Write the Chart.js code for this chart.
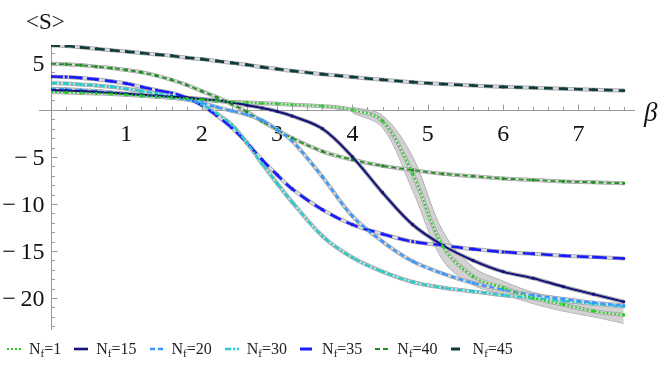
<!DOCTYPE html>
<html>
<head>
<meta charset="utf-8">
<script src="https://cdn.jsdelivr.net/npm/chart.js@4.4.0/dist/chart.umd.min.js"></script>
<style>
html, body { margin: 0; padding: 0; background: #fff; }
#wrap { position: relative; width: 664px; height: 366px; }
#legend { position: absolute; left: 7px; top: 338px; display: flex; align-items: center; height: 22px;
  font-family: "Liberation Serif", serif; font-size: 16px; color: #222; white-space: nowrap; }
.item { display: flex; align-items: center; margin-right: 13px; }
.item svg { margin-right: 8px; }
sub { font-size: 11px; vertical-align: -3px; line-height: 0; }
</style>
</head>
<body>
<div id="wrap">
  <canvas id="chart" width="664" height="366"></canvas>
  <div id="legend"></div>
</div>
<script>
// beta values of the measurements
const beta = [0, 0.2, 0.4, 0.6, 0.8, 1.0, 1.2, 1.4, 1.6, 1.8, 2.0, 2.2, 2.4, 2.6, 2.8, 3.0, 3.2,
              3.6, 4.0, 4.4, 4.8, 5.2, 5.6, 6.0, 6.4, 6.8, 7.2, 7.6];

// <S> for each N_f
const sNf1  = [1.9, 1.85, 1.8, 1.75, 1.7, 1.6, 1.5, 1.4, 1.3, 1.2, 1.1, 0.95, 0.85, 0.8, 0.7, 0.65, 0.55,
               0.4, 0.0, -1.2, -6.8, -14.5, -17.7, -18.9, -20.0, -20.7, -21.4, -21.8];
const sNf15 = [2.1, 2.05, 2.0, 1.9, 1.8, 1.7, 1.6, 1.5, 1.4, 1.3, 1.15, 1.0, 0.8, 0.5, 0.2, -0.15, -0.65,
               -2.0, -5.0, -8.8, -12.2, -14.4, -16.0, -17.2, -17.9, -18.8, -19.6, -20.4];
const sNf20 = [2.25, 2.2, 2.1, 2.0, 1.85, 1.7, 1.55, 1.45, 1.3, 1.1, 0.75, 0.3, -0.1, -0.5, -1.1, -2.1, -3.3,
               -7.1, -11.3, -14.0, -16.1, -17.4, -18.4, -19.1, -19.7, -20.1, -20.5, -20.8];
const sNf30 = [2.85, 2.8, 2.7, 2.6, 2.45, 2.25, 2.0, 1.75, 1.5, 1.2, 0.6, -0.4, -1.6, -3.5, -5.7, -7.8, -9.8,
               -13.4, -15.7, -17.2, -18.3, -18.9, -19.3, -19.7, -20.0, -20.3, -20.6, -20.9];
const sNf35 = [3.55, 3.5, 3.4, 3.25, 3.05, 2.8, 2.45, 2.1, 1.8, 1.3, 0.5, -0.6, -1.9, -3.5, -5.3, -6.9, -8.4,
               -10.6, -12.2, -13.2, -14.0, -14.4, -14.8, -15.1, -15.3, -15.5, -15.65, -15.8];
const sNf40 = [4.9, 4.85, 4.75, 4.6, 4.45, 4.25, 4.0, 3.65, 3.2, 2.65, 2.0, 1.35, 0.6, -0.2, -1.2, -2.1, -3.0,
               -4.4, -5.3, -5.95, -6.4, -6.8, -7.05, -7.3, -7.45, -7.6, -7.7, -7.8];
const sNf45 = [6.85, 6.8, 6.65, 6.5, 6.35, 6.2, 6.05, 5.9, 5.75, 5.55, 5.4, 5.2, 5.0, 4.8, 4.55, 4.35, 4.15,
               3.8, 3.5, 3.2, 2.95, 2.75, 2.6, 2.45, 2.35, 2.25, 2.15, 2.05];

// confidence band of the N_f=1 fit
const bandBeta = [4.0, 4.4, 4.8, 5.2, 5.6, 6.0, 6.4, 6.8, 7.2, 7.6];
const bandLo   = [-0.3, -1.9, -8.6, -16.0, -18.6, -19.6, -20.6, -21.4, -22.0, -22.7];
const bandHi   = [0.3, -0.6, -5.0, -12.9, -16.7, -18.2, -19.4, -20.0, -20.6, -20.9];

// error bar of the N_f=1 point at beta=0
const errBeta0 = [5.0, -3.0];

const nfLabels = ['1', '15', '20', '30', '35', '40', '45'];
const xTicks = [1, 2, 3, 4, 5, 6, 7];
const yTicks = [5, -5, -10, -15, -20];

const series = [sNf1, sNf15, sNf20, sNf30, sNf35, sNf40, sNf45];
const colors = ['#22cc22', '#14147a', '#3399ff', '#22cccc', '#1a1aff', '#1f8f1f', '#0e3c3c'];
const dashes = [[2, 2], [], [5, 3], [6, 2, 2, 2], [12, 6], [5, 3], [9, 6]];
const widths = [1.8, 2.2, 2.2, 2.2, 2.6, 1.8, 2.6];

function pts(xs, ys) { return xs.map((b, i) => ({ x: b, y: ys[i] })); }

const datasets = [];
series.forEach((s, i) => {
  datasets.push({
    label: 'N_f=' + nfLabels[i],
    data: pts(beta, s),
    borderColor: colors[i],
    backgroundColor: colors[i],
    borderWidth: widths[i],
    borderDash: dashes[i],
    pointStyle: 'rect',
    pointRadius: 2,
    pointBorderWidth: 0,
    order: 1
  });
});
// grey fit lines under each curve
series.forEach((s) => {
  datasets.push({ data: pts(beta, s), borderColor: '#dadada', borderWidth: 2.5, pointRadius: 0, order: 6 });
  datasets.push({ data: pts(beta, s), borderColor: '#a2a2a2', borderWidth: 4, pointRadius: 0, order: 7 });
});
datasets.push({ data: pts(bandBeta, bandHi), borderColor: '#b0b0b0', borderWidth: 1, pointRadius: 0,
  backgroundColor: 'rgba(195,195,195,0.75)', fill: '+1', order: 8 });
datasets.push({ data: pts(bandBeta, bandLo), borderColor: '#b0b0b0', borderWidth: 1, pointRadius: 0, order: 8 });
datasets.push({ data: errBeta0.map(v => ({ x: 0, y: v })), borderColor: colors[0], borderWidth: 1.5,
  borderDash: [2, 2], pointRadius: 0, order: 2 });

const serif = '"Liberation Serif", "Times New Roman", serif';

const mmaAxes = {
  id: 'mmaAxes',
  beforeDatasetsDraw(chart) {
    const { ctx, scales: { x, y } } = chart;
    const x0 = Math.round(x.getPixelForValue(0)) + 0.5;
    const y0 = Math.round(y.getPixelForValue(0)) + 0.5;
    ctx.save();
    ctx.strokeStyle = '#9a9a9a';
    ctx.lineWidth = 1;
    ctx.beginPath();
    ctx.moveTo(x.getPixelForValue(-0.16), y0); ctx.lineTo(x.right, y0);
    ctx.moveTo(x0, y.top); ctx.lineTo(x0, y.bottom);
    for (let k = 1; k <= 38; k++) {
      const px = Math.round(x.getPixelForValue(k * 0.2)) + 0.5;
      ctx.moveTo(px, y0); ctx.lineTo(px, y0 - (k % 5 === 0 ? 6 : 3.5));
    }
    for (let v = -23; v <= 6; v++) {
      if (v === 0) continue;
      const py = Math.round(y.getPixelForValue(v)) + 0.5;
      ctx.moveTo(x0, py); ctx.lineTo(x0 + (v % 5 === 0 ? 6 : 3.5), py);
    }
    ctx.stroke();

    ctx.fillStyle = '#111';
    ctx.font = '24px ' + serif;
    ctx.textAlign = 'center';
    ctx.textBaseline = 'alphabetic';
    xTicks.forEach(v => ctx.fillText(String(v), x.getPixelForValue(v), y0 + 30));
    ctx.textAlign = 'right';
    ctx.textBaseline = 'middle';
    yTicks.forEach(v => {
      const t = v < 0 ? '\u2212\u2009' + Math.abs(v) : String(v);
      ctx.fillText(t, x0 - 7, y.getPixelForValue(v) + 2);
    });
    ctx.textAlign = 'left';
    ctx.textBaseline = 'alphabetic';
    ctx.font = '23px ' + serif;
    ctx.fillText('<S>', 26, 29);
    ctx.font = 'italic 27px ' + serif;
    ctx.fillText('\u03b2', 644, y0 + 10);
    ctx.restore();
  }
};

new Chart(document.getElementById('chart'), {
  type: 'line',
  data: { datasets: datasets },
  options: {
    responsive: false,
    animation: false,
    layout: { padding: { left: 51, right: 29, top: 45, bottom: 36 } },
    elements: { line: { tension: 0.35, fill: false } },
    scales: {
      x: { type: 'linear', min: 0, max: 7.75, display: false },
      y: { type: 'linear', min: -23.4, max: 6.9, display: false }
    },
    plugins: { legend: { display: false }, tooltip: { enabled: false } }
  },
  plugins: [mmaAxes]
});

// legend with subscripts
const legend = document.getElementById('legend');
nfLabels.forEach((n, i) => {
  const item = document.createElement('span');
  item.className = 'item';
  const dash = dashes[i].length ? dashes[i].join(' ') : 'none';
  item.innerHTML = '<svg width="14" height="6"><line x1="0" y1="3" x2="14" y2="3" stroke="' + colors[i] +
    '" stroke-width="' + (widths[i] + 0.4) + '" stroke-dasharray="' + dash + '"/></svg>' +
    '<span>N<sub>f</sub>=' + n + '</span>';
  legend.appendChild(item);
});
</script>
</body>
</html>
